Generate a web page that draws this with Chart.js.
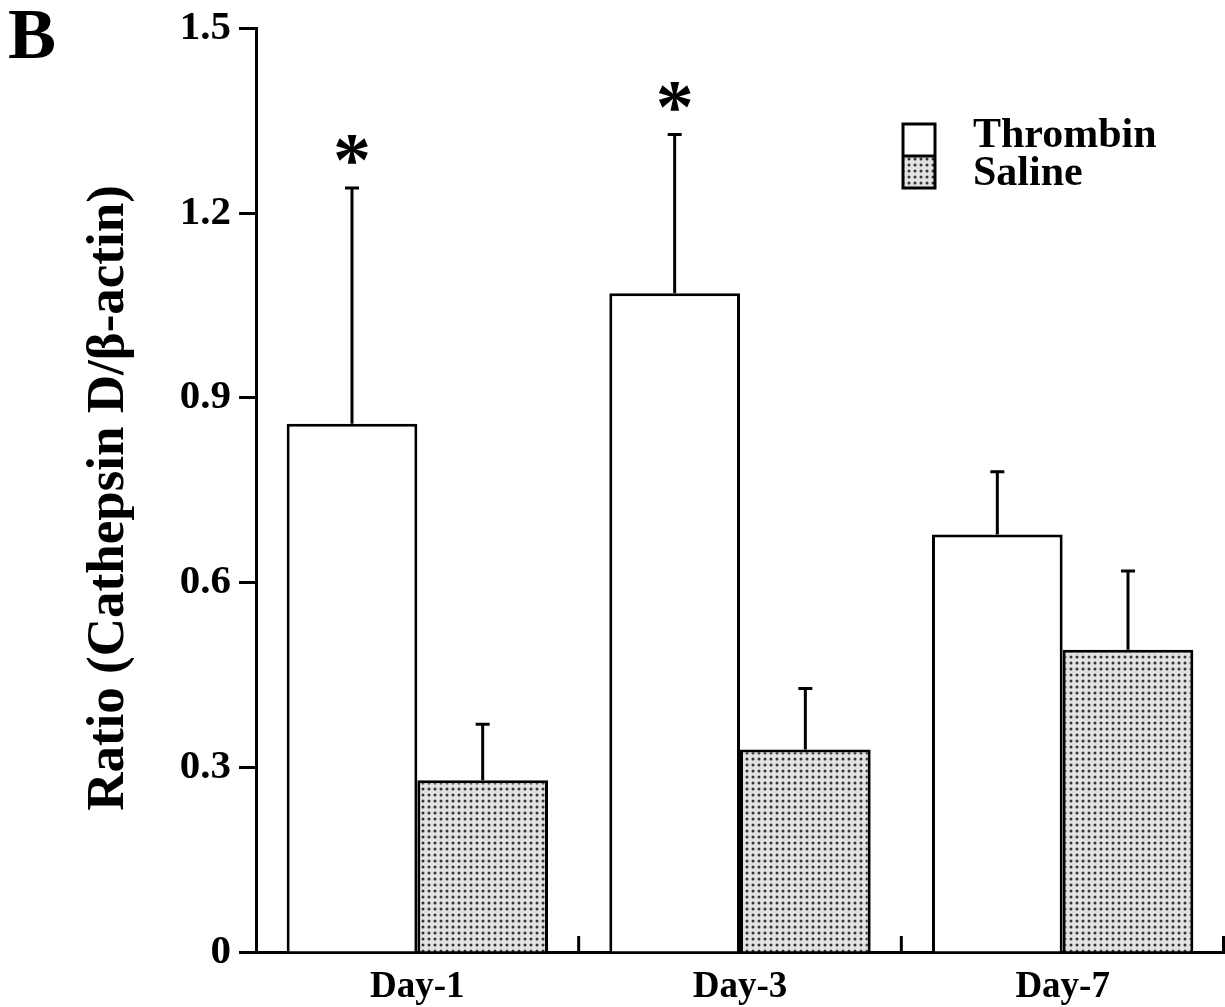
<!DOCTYPE html>
<html>
<head>
<meta charset="utf-8">
<script src="https://cdn.jsdelivr.net/npm/chart.js@4/dist/chart.umd.min.js"></script>
<style>
  html, body { margin: 0; padding: 0; background: #fff; }
  #wrap { width: 1225px; height: 1007px; position: relative; }
</style>
</head>
<body>
<div id="wrap"><canvas id="chart" width="1225" height="1007"></canvas></div>
<script>
var categories = ['Day-1', 'Day-3', 'Day-7'];
var thrombin = [0.858, 1.07, 0.678];
var thrombinErr = [0.383, 0.258, 0.102];
var saline = [0.279, 0.329, 0.491];
var salineErr = [0.091, 0.099, 0.128];
var thrombinMarks = ['*', '*', ''];
var yTicks = [0, 0.3, 0.6, 0.9, 1.2, 1.5];
var yTickLabels = ['0', '0.3', '0.6', '0.9', '1.2', '1.5'];
var yTitle = 'Ratio (Cathepsin D/\u03b2-actin)';
var panelLetter = 'B';

var SERIF = "'Liberation Serif', 'Times New Roman', Times, serif";

// dotted fill for the saline bars
function makeDots() {
    var c = document.createElement('canvas');
    c.width = 6; c.height = 6;
    var g = c.getContext('2d');
    g.fillStyle = '#e2e2e2';
    g.fillRect(0, 0, 6, 6);
    g.fillStyle = '#333';
    g.beginPath();
    g.arc(3, 3, 1.5, 0, Math.PI * 2);
    g.fill();
    return document.getElementById('chart').getContext('2d').createPattern(c, 'repeat');
}
var dots = makeDots();

var extras = {
    id: 'extras',
    afterDatasetsDraw: function (chart) {
        var ctx = chart.ctx;
        var x = chart.scales.x, y = chart.scales.y;
        var area = chart.chartArea;
        var errs = [thrombinErr, salineErr];
        ctx.save();
        ctx.strokeStyle = '#000';
        ctx.lineWidth = 3;

        // upward error bars
        [0, 1].forEach(function (di) {
            var meta = chart.getDatasetMeta(di);
            var vals = chart.data.datasets[di].data;
            meta.data.forEach(function (bar, i) {
                var y0 = y.getPixelForValue(vals[i]);
                var y1 = y.getPixelForValue(vals[i] + errs[di][i]);
                ctx.beginPath();
                ctx.moveTo(bar.x, y0);
                ctx.lineTo(bar.x, y1);
                ctx.moveTo(bar.x - 7, y1);
                ctx.lineTo(bar.x + 7, y1);
                ctx.stroke();
            });
        });

        // significance marks
        ctx.fillStyle = '#000';
        ctx.font = 'bold 76px ' + SERIF;
        ctx.textAlign = 'center';
        ctx.textBaseline = 'alphabetic';
        chart.getDatasetMeta(0).data.forEach(function (bar, i) {
            if (!thrombinMarks[i]) return;
            var top = y.getPixelForValue(thrombin[i] + thrombinErr[i]);
            var m = ctx.measureText(thrombinMarks[i]);
            var cy = top - 38;
            var base = cy + (m.actualBoundingBoxAscent - m.actualBoundingBoxDescent) / 2;
            ctx.fillText(thrombinMarks[i], bar.x, base);
        });

        // inward ticks at category boundaries
        var step = x.getPixelForValue(1) - x.getPixelForValue(0);
        for (var i = 1; i <= categories.length; i++) {
            var bx = x.getPixelForValue(i) - step / 2;
            if (i === categories.length) bx = Math.min(bx, chart.width - 1.5);
            ctx.beginPath();
            ctx.moveTo(bx, area.bottom);
            ctx.lineTo(bx, area.bottom - 16);
            ctx.stroke();
        }

        // legend
        var lx = 903, ly = 124, lw = 32, lh = 32;
        ctx.fillStyle = '#fff';
        ctx.fillRect(lx, ly, lw, lh);
        ctx.fillStyle = dots;
        ctx.fillRect(lx, ly + lh, lw, lh);
        ctx.lineWidth = 3;
        ctx.strokeRect(lx, ly, lw, lh * 2);
        ctx.beginPath();
        ctx.moveTo(lx, ly + lh);
        ctx.lineTo(lx + lw, ly + lh);
        ctx.stroke();
        ctx.fillStyle = '#000';
        ctx.font = 'bold 42px ' + SERIF;
        ctx.textAlign = 'left';
        ctx.fillText(chart.data.datasets[0].label, 973, 147);
        ctx.fillText(chart.data.datasets[1].label, 973, 185);

        // axis title and panel letter
        ctx.save();
        ctx.translate(123, 498);
        ctx.rotate(-Math.PI / 2);
        ctx.textAlign = 'center';
        ctx.font = 'bold 53px ' + SERIF;
        ctx.fillText(yTitle, 0, 0);
        ctx.restore();

        ctx.font = 'bold 72px ' + SERIF;
        ctx.textAlign = 'left';
        ctx.fillText(panelLetter, 8, 58);
        ctx.restore();
    }
};

new Chart(document.getElementById('chart').getContext('2d'), {
    type: 'bar',
    data: {
        labels: categories,
        datasets: [
            {
                label: 'Thrombin',
                data: thrombin,
                backgroundColor: '#fff',
                borderColor: '#000',
                borderWidth: 3,
                borderSkipped: 'bottom'
            },
            {
                label: 'Saline',
                data: saline,
                backgroundColor: dots,
                borderColor: '#000',
                borderWidth: 3,
                borderSkipped: 'bottom'
            }
        ]
    },
    options: {
        responsive: false,
        animation: false,
        devicePixelRatio: 1,
        layout: { padding: { top: 27, right: 1, left: 0, bottom: 0 } },
        categoryPercentage: 0.81,
        barPercentage: 1.0,
        plugins: {
            legend: { display: false },
            tooltip: { enabled: false }
        },
        scales: {
            x: {
                afterFit: function (s) { s.height = 55; },
                grid: { display: false, drawTicks: false },
                border: { display: true, color: '#000', width: 3 },
                ticks: {
                    color: '#000',
                    padding: 13,
                    font: { family: SERIF, size: 37, weight: 'bold' }
                }
            },
            y: {
                min: 0,
                max: 1.5,
                afterFit: function (s) { s.width = 256; },
                afterBuildTicks: function (s) {
                    s.ticks = yTicks.map(function (v) { return { value: v }; });
                },
                grid: {
                    display: true,
                    drawOnChartArea: false,
                    drawTicks: true,
                    tickLength: 17,
                    tickColor: '#000',
                    tickWidth: 3
                },
                border: { display: true, color: '#000', width: 3 },
                ticks: {
                    color: '#000',
                    padding: 8,
                    font: { family: SERIF, size: 41, weight: 'bold', lineHeight: 1 },
                    callback: function (v, i) { return yTickLabels[i]; }
                }
            }
        }
    },
    plugins: [extras]
});
</script>
</body>
</html>
